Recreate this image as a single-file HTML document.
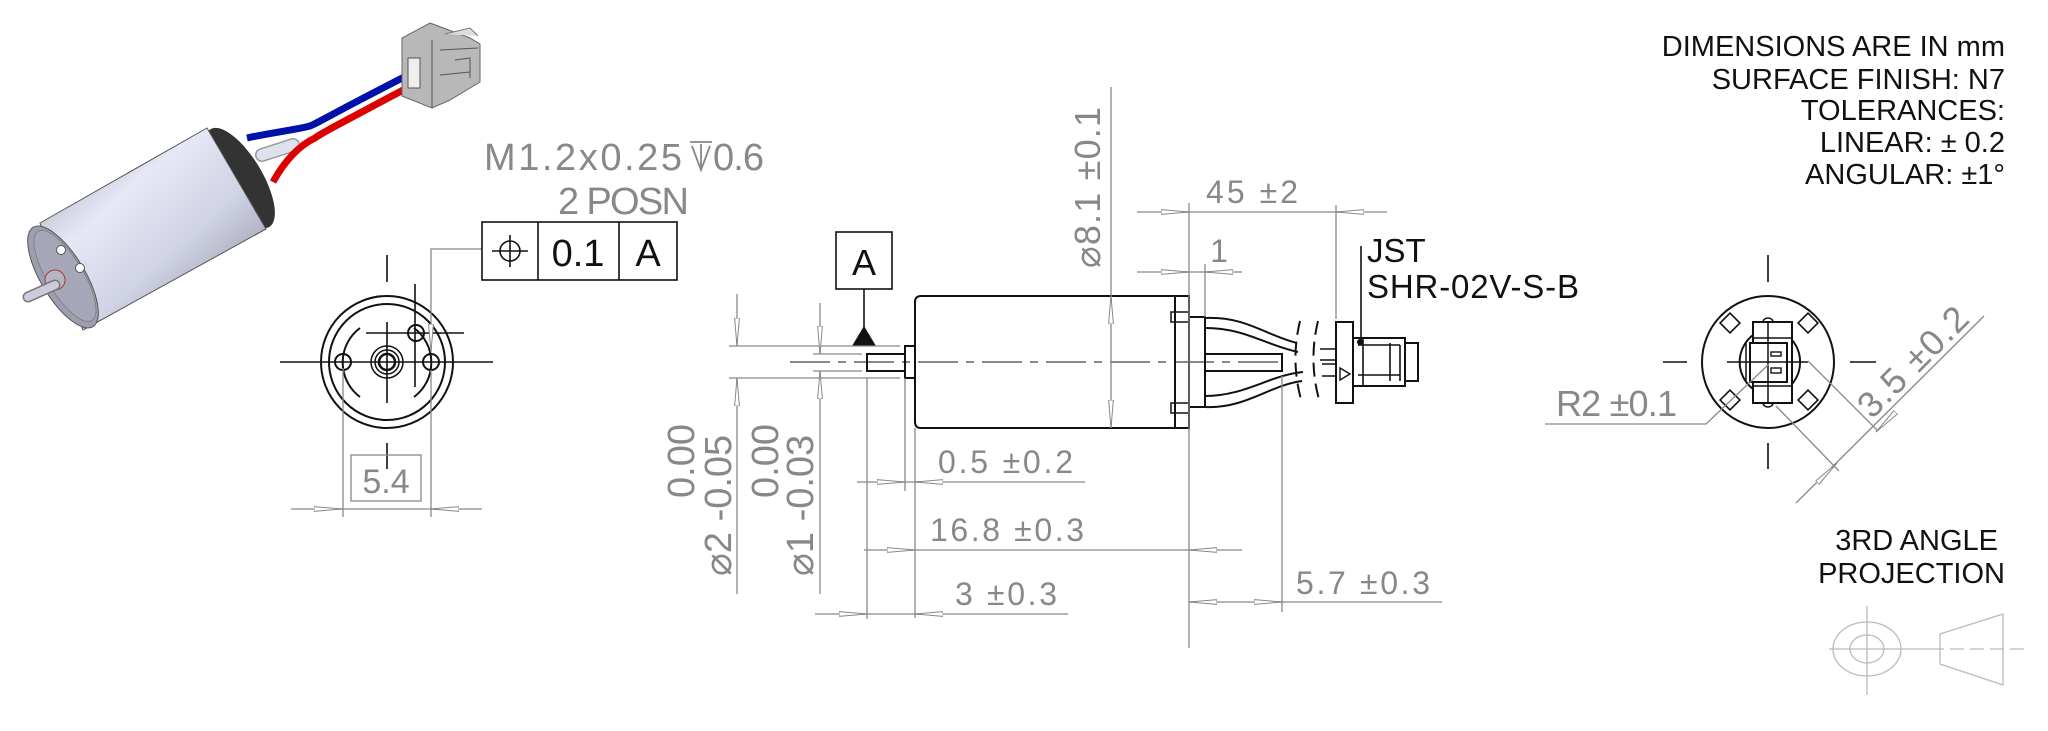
<!DOCTYPE html>
<html><head><meta charset="utf-8"><style>
html,body{margin:0;padding:0;background:#fff;}
svg{display:block;}
.g{fill:#888;font-family:"Liberation Sans",sans-serif;}
.k{fill:#111;font-family:"Liberation Sans",sans-serif;}
</style></head><body>
<svg width="2048" height="731" viewBox="0 0 2048 731" xmlns="http://www.w3.org/2000/svg">
<defs>
<marker id="a" viewBox="0 0 28 8" refX="28" refY="4" markerWidth="28" markerHeight="8" markerUnits="userSpaceOnUse" orient="auto">
<path d="M0,1.6 L28,4 L0,6.4 Z" fill="#fff" stroke="#888" stroke-width="1"/>
</marker>
<linearGradient id="body" x1="0" y1="0" x2="1" y2="1" gradientUnits="objectBoundingBox">
<stop offset="0" stop-color="#9a9cab"/><stop offset="0.35" stop-color="#e6e8f6"/><stop offset="0.6" stop-color="#d0d3e4"/><stop offset="1" stop-color="#7f8090"/>
</linearGradient>
</defs>

<!-- 3D motor -->
<g>
<ellipse cx="240" cy="178" rx="22" ry="57" transform="rotate(-31 240 178)" fill="#333"/>
<path d="M40,223 L207,128 L266,229 L83,330 Z" fill="url(#body)" stroke="#555" stroke-width="1"/>
<ellipse cx="63" cy="277" rx="22" ry="58" transform="rotate(-31 63 277)" fill="#9d9fb0" stroke="#555" stroke-width="1"/>
<ellipse cx="65" cy="276" rx="18" ry="52" transform="rotate(-31 65 276)" fill="#a5a7b8" stroke="#777" stroke-width="0.7"/>
<circle cx="61" cy="250" r="4.5" fill="#fff" stroke="#555"/>
<circle cx="80" cy="268" r="4.5" fill="#fff" stroke="#555"/>
<circle cx="55" cy="280" r="10" fill="#b5b7c7" stroke="#a33" stroke-width="1"/>
<path d="M55,285 L28,297" stroke="#777" stroke-width="11" stroke-linecap="round"/>
<path d="M55,285 L28,297" stroke="#ccd" stroke-width="8" stroke-linecap="round"/>
<path d="M262,155 L293,145" stroke="#999" stroke-width="14" stroke-linecap="round"/>
<path d="M262,155 L293,145" stroke="#dfe1ee" stroke-width="11" stroke-linecap="round"/>
<path d="M247,138 C275,132 295,130 310,126 C320,122 325,117 422,68" fill="none" stroke="#0011aa" stroke-width="7"/>
<path d="M273,182 C285,160 300,145 315,138 C320,134 328,130 422,80" fill="none" stroke="#d00" stroke-width="7"/>
<path d="M430,23 L470,38 L480,44 L480,82 L450,100 L432,108 L402,96 L402,38 Z" fill="#b8b8b8" stroke="#666" stroke-width="1"/>
<rect x="408" y="58" width="12" height="30" fill="#eee" stroke="#555"/>
<path d="M432,40 L432,108 M440,50 L478,48 M455,60 L470,58 L470,78 M440,75 L470,72" stroke="#555" fill="none"/>
<path d="M445,34 L470,28 L478,36" stroke="#777" fill="#ddd"/>
</g>

<!-- Front view -->
<g fill="none" stroke="#111" stroke-width="2">
<circle cx="387" cy="362" r="66"/>
<circle cx="387" cy="362" r="58"/>
<circle cx="343" cy="362" r="8"/>
<circle cx="431" cy="362" r="8"/>
<circle cx="416" cy="333" r="8"/>
<circle cx="387" cy="362" r="16" stroke-width="1.5"/>
<circle cx="387" cy="362" r="12" stroke-width="1.5"/>
<circle cx="387" cy="362" r="8" stroke-width="2.5"/>
<path d="M360,328 A43,43 0 0 0 360,397" />
<path d="M414,328 A43,43 0 0 1 414,397" />
<path d="M280,362 H493 M387,322 V403 M387,255 V282 M387,443 V469 M366,333 H464 M415,284 V387" stroke-width="1.6"/>
</g>
<g stroke="#888" stroke-width="1.3" fill="none">
<path d="M343,368 V517 M431,370 V517 M291,509 H482"/>
<line x1="314" y1="509" x2="342" y2="509" marker-end="url(#a)"/>
<line x1="459" y1="509" x2="431" y2="509" marker-end="url(#a)"/>
<path d="M482,249 H431 V326"/>
<line x1="431" y1="324" x2="431" y2="352" marker-end="url(#a)"/>
</g>
<rect x="351" y="455" width="70" height="46" fill="none" stroke="#888" stroke-width="1.3"/>
<text class="g" x="386" y="493" font-size="34" text-anchor="middle">5.4</text>
<text class="g" x="484" y="170" font-size="38" textLength="198">M1.2x0.25</text>
<path d="M690,142 H712 M692,146 L701,170 L710,146 M701,144 V170" stroke="#888" stroke-width="1.8" fill="none"/>
<text class="g" x="713" y="170" font-size="38" textLength="51">0.6</text>
<text class="g" x="558" y="214" font-size="38" textLength="131">2 POSN</text>
<g fill="none" stroke="#111" stroke-width="1.6">
<rect x="482" y="222" width="195" height="58"/>
<path d="M538,222 V280 M619,222 V280"/>
<circle cx="510" cy="251" r="10"/>
<path d="M492,251 H528 M510,235 V267"/>
</g>
<text class="k" x="578" y="266" font-size="38" text-anchor="middle">0.1</text>
<text class="k" x="648" y="266" font-size="38" text-anchor="middle">A</text>

<!-- Side view -->
<g fill="none" stroke="#111" stroke-width="2">
<path d="M921,296 H1189 V428 H921 Q915,428 915,422 V302 Q915,296 921,296 Z"/>
<path d="M1175,296 V428"/>
<rect x="1189" y="317" width="16" height="90"/>
<rect x="905" y="346" width="10" height="32"/>
<rect x="867" y="354" width="38" height="17"/>
<rect x="1205" y="354" width="77" height="17"/>
<rect x="1171" y="312" width="18" height="10" stroke-width="1.5"/>
<rect x="1171" y="403" width="18" height="10" stroke-width="1.5"/>
<path d="M1205,318 C1245,316 1265,335 1297,343 M1205,328 C1245,328 1265,345 1298,352"/>
<path d="M1205,407 C1245,409 1270,385 1302,381 M1205,396 C1245,396 1270,375 1303,372"/>
<path d="M1300,321 Q1290,362 1302,403 M1318,321 Q1308,362 1320,403" stroke-dasharray="14,7"/>
<path d="M1320,349 H1336 M1320,360 H1336 M1322,364 H1336 M1322,376 H1336" stroke-width="1.6"/>
<rect x="1336" y="322" width="17" height="81"/>
<rect x="1353" y="338" width="52" height="48"/>
<rect x="1405" y="343" width="13" height="38"/>
<path d="M1363,338 V386 M1390,343 V381 M1358,345 H1400 M1358,375 H1400 M1400,345 V381" stroke-width="1.6"/>
<path d="M1340,368 L1350,374 L1340,380 Z" stroke-width="1.4"/>
</g>
<circle cx="1360" cy="342" r="3" fill="#111"/>
<path d="M790,362 H1283" stroke="#111" stroke-width="1" stroke-dasharray="40,8,8,8"/>
<!-- datum A -->
<rect x="836" y="232" width="56" height="57" fill="none" stroke="#111" stroke-width="1.6"/>
<text class="k" x="864" y="275" font-size="36" text-anchor="middle">A</text>
<path d="M864,289 V330" stroke="#111" stroke-width="1.6"/>
<path d="M852,346 L864,326 L876,346 Z" fill="#111"/>
<!-- dimension lines -->
<g stroke="#888" stroke-width="1.3" fill="none">
<path d="M729,346 H900 M729,378 H900 M813,354 H862 M813,371 H862"/>
<path d="M737,294 V346 M737,378 V594 M820,303 V354 M820,371 V594"/>
<line x1="737" y1="318" x2="737" y2="346" marker-end="url(#a)"/>
<line x1="737" y1="406" x2="737" y2="378" marker-end="url(#a)"/>
<line x1="820" y1="326" x2="820" y2="354" marker-end="url(#a)"/>
<line x1="820" y1="399" x2="820" y2="371" marker-end="url(#a)"/>
<path d="M1111,87 V428"/>
<line x1="1111" y1="324" x2="1111" y2="296" marker-end="url(#a)"/>
<line x1="1111" y1="400" x2="1111" y2="428" marker-end="url(#a)"/>
<path d="M1189,203 V648 M1336,205 V319 M1205,264 V317 M1137,212 H1387 M1137,272 H1242"/>
<line x1="1161" y1="212" x2="1189" y2="212" marker-end="url(#a)"/>
<line x1="1364" y1="212" x2="1336" y2="212" marker-end="url(#a)"/>
<line x1="1161" y1="272" x2="1189" y2="272" marker-end="url(#a)"/>
<line x1="1233" y1="272" x2="1205" y2="272" marker-end="url(#a)"/>
<path d="M905,378 V491 M915,428 V618 M867,378 V619 M1282,376 V612"/>
<path d="M857,482 H1085 M864,550 H1242 M815,614 H1068 M1189,602 H1442"/>
<line x1="877" y1="482" x2="905" y2="482" marker-end="url(#a)"/>
<line x1="943" y1="482" x2="915" y2="482" marker-end="url(#a)"/>
<line x1="887" y1="550" x2="915" y2="550" marker-end="url(#a)"/>
<line x1="1217" y1="550" x2="1189" y2="550" marker-end="url(#a)"/>
<line x1="839" y1="614" x2="867" y2="614" marker-end="url(#a)"/>
<line x1="943" y1="614" x2="915" y2="614" marker-end="url(#a)"/>
<line x1="1217" y1="602" x2="1189" y2="602" marker-end="url(#a)"/>
<line x1="1254" y1="602" x2="1282" y2="602" marker-end="url(#a)"/>
</g>
<path d="M1361,246 V344" stroke="#111" stroke-width="1.6"/>
<text class="g" font-size="38" transform="translate(694,424) rotate(-90)" text-anchor="end">0.00</text>
<text class="g" font-size="38" transform="translate(731,576) rotate(-90)">⌀2 -0.05</text>
<text class="g" font-size="38" transform="translate(778,424) rotate(-90)" text-anchor="end">0.00</text>
<text class="g" font-size="38" transform="translate(813,576) rotate(-90)">⌀1 -0.03</text>
<text class="g" font-size="36" transform="translate(1100,268) rotate(-90)" textLength="161">⌀8.1 ±0.1</text>
<text class="g" x="1206" y="203" font-size="32" textLength="92">45 ±2</text>
<text class="g" x="1219" y="262" font-size="32" text-anchor="middle">1</text>
<text class="g" x="938" y="473" font-size="32" textLength="135">0.5 ±0.2</text>
<text class="g" x="930" y="541" font-size="32" textLength="154">16.8 ±0.3</text>
<text class="g" x="955" y="605" font-size="32" textLength="102">3 ±0.3</text>
<text class="g" x="1296" y="594" font-size="32" textLength="134">5.7 ±0.3</text>
<text class="k" x="1367" y="262" font-size="33">JST</text>
<text class="k" x="1367" y="298" font-size="33" textLength="212">SHR-02V-S-B</text>

<!-- Right view -->
<g fill="none" stroke="#111" stroke-width="2">
<circle cx="1768" cy="362" r="66"/>
<path d="M1753,335 A34,34 0 0 0 1753,389 M1792,340 A34,34 0 0 1 1792,384"/>
<rect x="1753" y="322" width="39" height="81"/>
<rect x="1750" y="343" width="37" height="39" fill="#fff"/>
<rect x="1771" y="352" width="10" height="4" stroke-width="1.4"/>
<rect x="1771" y="368" width="10" height="5" stroke-width="1.4"/>
<path d="M1768,322 V403 M1753,338 H1792 M1753,386 H1792 M1746,343 V382" stroke-width="1.5"/>
<path d="M1763,322 A5,4 0 0 1 1773,322 M1763,403 A5,4 0 0 0 1773,403" stroke-width="1.5"/>
<g stroke-width="1.6">
<rect x="1723" y="316" width="14" height="14" transform="rotate(45 1730 323)"/>
<rect x="1801" y="316" width="14" height="14" transform="rotate(45 1808 323)"/>
<rect x="1723" y="393" width="14" height="14" transform="rotate(45 1730 400)"/>
<rect x="1801" y="393" width="14" height="14" transform="rotate(45 1808 400)"/>
</g>
<path d="M1663,362 H1687 M1727,362 H1808 M1850,362 H1876 M1768,255 V282 M1768,443 V469" stroke-width="1.6"/>
</g>
<g stroke="#888" stroke-width="1.3" fill="none">
<path d="M1545,424 H1706 L1769,364"/>
<path d="M1808,361 L1878,431 M1776,406 L1839,471 M1796,503 L1984,316"/>
<line x1="1818" y1="482" x2="1837" y2="463" marker-end="url(#a)"/>
<line x1="1895" y1="413" x2="1876" y2="432" marker-end="url(#a)"/>
</g>
<text class="g" x="1556" y="416" font-size="36" textLength="121">R2 ±0.1</text>
<text class="g" font-size="36" transform="translate(1872,420) rotate(-45)" textLength="140">3.5 ±0.2</text>

<!-- notes -->
<g class="k" font-size="29" text-anchor="end">
<text x="2005" y="56">DIMENSIONS ARE IN mm</text>
<text x="2005" y="89">SURFACE FINISH: N7</text>
<text x="2005" y="120">TOLERANCES:</text>
<text x="2005" y="152">LINEAR: ± 0.2</text>
<text x="2005" y="184">ANGULAR: ±1°</text>
<text x="1998" y="550">3RD ANGLE</text>
<text x="2005" y="583">PROJECTION</text>
</g>
<g fill="none" stroke="#bbb" stroke-width="1.3">
<ellipse cx="1867" cy="649" rx="34" ry="27"/>
<ellipse cx="1867" cy="649" rx="17" ry="14"/>
<path d="M1829,649 H1930 M1867,606 V695"/>
<path d="M1940,634 L2003,614 L2003,685 L1940,664 Z"/>
<path d="M1930,649 H2024" stroke-dasharray="14,6"/>
</g>
</svg>
</body></html>
